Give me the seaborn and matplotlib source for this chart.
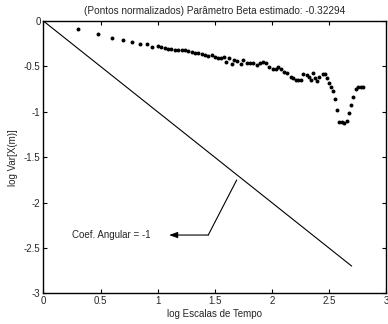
import matplotlib
matplotlib.use("Agg")
import matplotlib.pyplot as plt
import pandas as pd
import seaborn as sns

# Data
log_m = [0.301, 0.477, 0.602, 0.699, 0.778, 0.845, 0.903, 0.954, 1.000,
         1.029, 1.060, 1.090, 1.121, 1.151, 1.180, 1.210, 1.239, 1.268, 1.298,
         1.327, 1.356, 1.384, 1.414, 1.445, 1.473, 1.502, 1.531, 1.559, 1.585,
         1.602, 1.624, 1.653, 1.672, 1.697, 1.727, 1.750, 1.779, 1.808, 1.837,
         1.872, 1.900, 1.925, 1.953, 1.977, 2.007, 2.032, 2.056, 2.077, 2.106,
         2.130, 2.165, 2.187, 2.211, 2.231, 2.252, 2.275, 2.305, 2.327, 2.339,
         2.357, 2.377, 2.398, 2.415, 2.445, 2.465, 2.480, 2.500, 2.518, 2.532,
         2.552, 2.573, 2.590, 2.611, 2.631, 2.655, 2.678, 2.695, 2.713, 2.736,
         2.757, 2.778, 2.795]
log_var = [-0.088, -0.143, -0.184, -0.213, -0.228, -0.250, -0.250, -0.286, -0.272,
           -0.281, -0.292, -0.303, -0.308, -0.314, -0.319, -0.319, -0.319, -0.330, -0.341,
           -0.352, -0.352, -0.358, -0.374, -0.380, -0.374, -0.391, -0.411, -0.402, -0.391,
           -0.452, -0.402, -0.474, -0.424, -0.441, -0.474, -0.430, -0.459, -0.457, -0.466,
           -0.485, -0.466, -0.452, -0.463, -0.501, -0.529, -0.523, -0.503, -0.529, -0.558,
           -0.573, -0.611, -0.631, -0.644, -0.650, -0.650, -0.587, -0.595, -0.613, -0.650,
           -0.576, -0.631, -0.661, -0.613, -0.587, -0.578, -0.624, -0.686, -0.724, -0.768,
           -0.859, -0.980, -1.107, -1.112, -1.127, -1.098, -1.010, -0.928, -0.834, -0.752,
           -0.724, -0.724, -0.730]

# reference line with slope -1
ref_x = [0.0, 0.301, 0.477, 0.699, 1.0, 1.301, 1.699, 2.0, 2.398, 2.699]
ref_y = [0.0, -0.301, -0.477, -0.699, -1.0, -1.301, -1.699, -2.0, -2.398, -2.699]

title = "(Pontos normalizados) Parâmetro Beta estimado: -0.32294"
note = "Coef. Angular = -1"

df = pd.DataFrame({"x": log_m, "y": log_var})
df_ref = pd.DataFrame({"x": ref_x, "y": ref_y})

sns.set_style("ticks")
plt.rcParams["font.family"] = ["Liberation Sans", "DejaVu Sans"]

fig = plt.figure(figsize=(3.88, 3.24), dpi=100)
ax = fig.add_axes([0.112, 0.0944, 0.883, 0.8406])

sns.lineplot(data=df_ref, x="x", y="y", ax=ax, color="black", linewidth=0.8, sort=False)
sns.scatterplot(data=df, x="x", y="y", ax=ax, color="black", s=8, linewidth=0)

# annotation: bent leader with arrow
ax.plot([1.692, 1.443], [-1.751, -2.357], color="black", linewidth=0.8)
ax.annotate("", xy=(1.10, -2.357), xytext=(1.443, -2.357),
            arrowprops=dict(arrowstyle="-|>,head_length=0.5,head_width=0.18",
                            color="black", linewidth=0.8, shrinkA=0, shrinkB=0))
ax.text(0.247, -2.357, note, fontsize=7, va="center", ha="left")

ax.set_xlim(0, 3)
ax.set_ylim(-3, 0)
ax.set_xticks([0, 0.5, 1, 1.5, 2, 2.5, 3])
ax.set_xticklabels(["0", "0.5", "1", "1.5", "2", "2.5", "3"])
ax.set_yticks([0, -0.5, -1, -1.5, -2, -2.5, -3])
ax.set_yticklabels(["0", "-0.5", "-1", "-1.5", "-2", "-2.5", "-3"])
ax.tick_params(direction="in", length=3, width=0.8, labelsize=7, pad=2,
               top=True, right=True, color="black")
for s in ax.spines.values():
    s.set_linewidth(1.0)
    s.set_color("black")
ax.set_xlabel("log Escalas de Tempo", fontsize=7, labelpad=2)
ax.set_ylabel("log Var[X(m)]", fontsize=7, labelpad=4)
ax.set_title(title, fontsize=7.2, pad=5)

fig.savefig("out.png", dpi=100)
